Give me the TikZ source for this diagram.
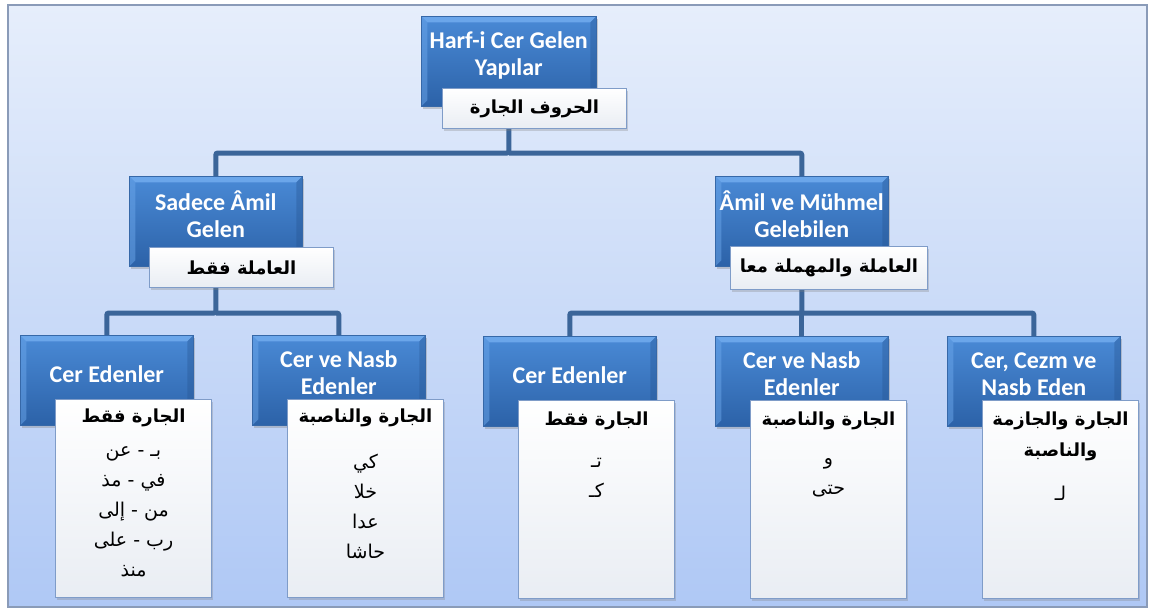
\documentclass[tikz,border=0pt]{standalone}
\usepackage{fontspec}
\usetikzlibrary{shadows,calc}
\TeXXeTstate=1
\newfontfamily\arabicfont[Script=Arabic]{DejaVu Sans}
\newfontfamily\carlito{Carlito}
\newcommand\artxt[1]{{\arabicfont\beginR #1\endR}}
\definecolor{bgtop}{HTML}{E6EEFB}
\definecolor{bgbot}{HTML}{AFC8F5}
\definecolor{frameC}{HTML}{8A9BB8}
\definecolor{bluetop}{HTML}{4A8AD6}
\definecolor{bluebot}{HTML}{2C62A8}
\definecolor{bluebevel}{HTML}{6BA6EA}
\definecolor{bluedge}{HTML}{3668A8}
\definecolor{connC}{HTML}{3B6599}
\definecolor{lbledge}{HTML}{7F9CC8}
\definecolor{lblbot}{HTML}{E9EDF3}
\pgfdeclarelayer{back}
\pgfdeclarelayer{conns}
\pgfsetlayers{back,conns,main}
\tikzset{
  bluebox/.style={draw=bluedge, line width=0.6pt, top color=bluetop, bottom color=bluebot,
    minimum width=173pt, minimum height=90pt, anchor=north west, inner sep=0pt,
    drop shadow={shadow xshift=1.5pt, shadow yshift=-2.5pt, opacity=0.35},
    path picture={
      \fill[bluebevel] (path picture bounding box.north west) -- (path picture bounding box.north east)
        -- ([xshift=-6pt,yshift=-6pt]path picture bounding box.north east)
        -- ([xshift=6pt,yshift=-6pt]path picture bounding box.north west) -- cycle;
      \fill[bluebot!85!black, opacity=0.35] (path picture bounding box.north east) -- (path picture bounding box.south east)
        -- ([xshift=-6pt,yshift=6pt]path picture bounding box.south east)
        -- ([xshift=-6pt,yshift=-6pt]path picture bounding box.north east) -- cycle;
      \fill[bluebevel, opacity=0.5] (path picture bounding box.north west) -- (path picture bounding box.south west)
        -- ([xshift=6pt,yshift=6pt]path picture bounding box.south west)
        -- ([xshift=6pt,yshift=-6pt]path picture bounding box.north west) -- cycle;
    }},
  bluetext/.style={text=white, font=\carlito\bfseries\fontsize{24}{27}\selectfont, align=center, inner sep=0pt},
  lblbox/.style={draw=lbledge, line width=1pt, top color=white, bottom color=lblbot,
    anchor=north west, inner sep=0pt, font=\bfseries\fontsize{18}{22}\selectfont,
    drop shadow={shadow xshift=1.5pt, shadow yshift=-2pt, opacity=0.3}},
  listbox/.style={draw=lbledge, line width=1pt, top color=white, bottom color=lblbot,
    anchor=north west, inner sep=0pt, minimum width=156pt, minimum height=198pt,
    drop shadow={shadow xshift=1.5pt, shadow yshift=-2pt, opacity=0.3}},
  listtitle/.style={font=\bfseries\fontsize{18}{31}\selectfont, align=center, inner sep=0pt},
  listitems/.style={font=\fontsize{19}{30}\selectfont, align=center, inner sep=0pt},
  conn/.style={draw=connC, line width=5pt, rounded corners=2pt},
}
\begin{document}
\begin{tikzpicture}[x=1pt,y=-1pt]
\useasboundingbox (0,0) rectangle (1151,610);
\begin{pgfonlayer}{back}
  \fill[white] (0,0) rectangle (1151,610);
  \draw[draw=frameC, line width=1.5pt, top color=bgtop, bottom color=bgbot] (8,5) rectangle (1147,607);
\end{pgfonlayer}

% level 0
\node[bluebox, minimum width=175pt] (top) at (421,16) {};
\node[bluetext] (topT) at ([yshift=-39pt]top.north) {Harf-i Cer Gelen\\Yapılar};
\node[lblbox, minimum width=184pt, minimum height=40pt] (topL) at (442,88) {\artxt{الحروف الجارة}};

% level 1
\node[bluebox] (a) at (129,176) {};
\node[bluetext] (aT) at ([yshift=-38pt]a.north) {Sadece Âmil\\Gelen};
\node[lblbox, minimum width=184pt, minimum height=40pt] (aL) at (149,247) {\artxt{العاملة فقط}};

\node[bluebox] (b) at (715,176) {};
\node[bluetext] (bT) at ([yshift=-38pt]b.north) {Âmil ve Mühmel\\Gelebilen};
\node[lblbox, minimum width=197pt, minimum height=43pt] (bL) at (730,246) {\artxt{العاملة والمهملة معا}};

% level 2
\node[bluebox] (c1) at (20,335) {};
\node[bluetext] (c1T) at ([yshift=-39pt]c1.north) {Cer Edenler};
\node[listbox] (c1L) at (55,399) {};
\node[listtitle] (c1t) at ($(c1L.north)+(0,19)$) {\artxt{الجارة فقط}};
\node[listitems] (c1i) at ($(c1L.north)+(0,113)$) {\artxt{بـ - عن}\\\artxt{في - مذ}\\\artxt{من - إلى}\\\artxt{رب - على}\\\artxt{منذ}};

\node[bluebox] (c2) at (252,335) {};
\node[bluetext] (c2T) at ([yshift=-38pt]c2.north) {Cer ve Nasb\\Edenler};
\node[listbox] (c2L) at (287,399) {};
\node[listtitle] (c2t) at ($(c2L.north)+(0,19)$) {\artxt{الجارة والناصبة}};
\node[listitems] (c2i) at ($(c2L.north)+(0,107)$) {\artxt{كي}\\\artxt{خلا}\\\artxt{عدا}\\\artxt{حاشا}};

\node[bluebox] (c3) at (483,336) {};
\node[bluetext] (c3T) at ([yshift=-39pt]c3.north) {Cer Edenler};
\node[listbox] (c3L) at (518,400) {};
\node[listtitle] (c3t) at ($(c3L.north)+(0,21)$) {\artxt{الجارة فقط}};
\node[listitems] (c3i) at ($(c3L.north)+(0,78)$) {\artxt{تـ}\\\artxt{كـ}};

\node[bluebox] (c4) at (715,336) {};
\node[bluetext] (c4T) at ([yshift=-38pt]c4.north) {Cer ve Nasb\\Edenler};
\node[listbox] (c4L) at (750,400) {};
\node[listtitle] (c4t) at ($(c4L.north)+(0,21)$) {\artxt{الجارة والناصبة}};
\node[listitems] (c4i) at ($(c4L.north)+(0,78)$) {\artxt{و}\\\artxt{حتى}};

\node[bluebox] (c5) at (947,336) {};
\node[bluetext] (c5T) at ([yshift=-38pt]c5.north) {Cer, Cezm ve\\Nasb Eden};
\node[listbox] (c5L) at (982,400) {};
\node[listtitle] (c5t) at ($(c5L.north)+(0,36)$) {\artxt{الجارة والجازمة}\\\artxt{والناصبة}};
\node[listitems] (c5i) at ($(c5L.north)+(0,93)$) {\artxt{لـ}};

% connectors
\begin{pgfonlayer}{conns}
  \coordinate (bus0) at (0,153);
  \coordinate (bus1) at (0,313);
  \draw[conn] (top.south) -- (top.south |- bus0) -| (a.north);
  \draw[conn] (top.south |- bus0) -| (b.north);
  \draw[conn] (a.south) -- (a.south |- bus1) -| (c1.north);
  \draw[conn] (a.south |- bus1) -| (c2.north);
  \draw[conn] (b.south) -- (b.south |- bus1) -| (c3.north);
  \draw[conn] (b.south |- bus1) -| (c5.north);
  \draw[conn] (b.south |- bus1) -- (c4.north);
\end{pgfonlayer}
\end{tikzpicture}
\end{document}
